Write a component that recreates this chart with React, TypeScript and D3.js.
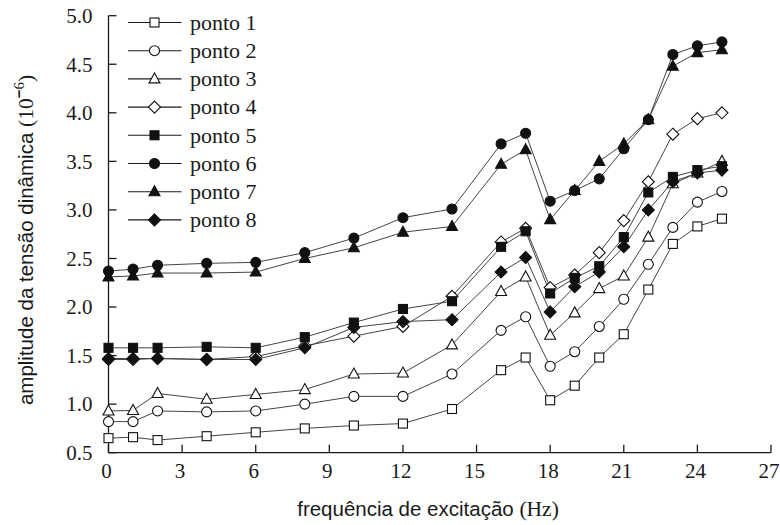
import React from "react";
import * as d3 from "d3";

// excitation frequencies (Hz)
const freq = [0, 1, 2, 4, 6, 8, 10, 12, 14, 16, 17, 18, 19, 20, 21, 22, 23, 24, 25];

// dynamic stress amplitude (×10^-6) at each measuring point
const ponto1 = [0.65, 0.66, 0.63, 0.67, 0.71, 0.75, 0.78, 0.8, 0.95, 1.35, 1.48, 1.04, 1.19, 1.48, 1.72, 2.18, 2.65, 2.83, 2.91];
const ponto2 = [0.82, 0.82, 0.93, 0.92, 0.93, 1.0, 1.08, 1.08, 1.31, 1.76, 1.9, 1.39, 1.54, 1.8, 2.08, 2.44, 2.82, 3.08, 3.19];
const ponto3 = [0.93, 0.935, 1.11, 1.05, 1.1, 1.15, 1.31, 1.32, 1.61, 2.16, 2.31, 1.71, 1.94, 2.19, 2.32, 2.72, 3.27, 3.38, 3.5];
const ponto4 = [1.46, 1.46, 1.47, 1.46, 1.49, 1.6, 1.7, 1.8, 2.11, 2.67, 2.81, 2.2, 2.33, 2.56, 2.89, 3.29, 3.78, 3.94, 4.0];
const ponto5 = [1.58, 1.58, 1.58, 1.59, 1.58, 1.69, 1.84, 1.98, 2.06, 2.62, 2.78, 2.14, 2.3, 2.42, 2.72, 3.18, 3.34, 3.41, 3.45];
const ponto6 = [2.37, 2.39, 2.43, 2.45, 2.46, 2.56, 2.71, 2.92, 3.01, 3.68, 3.79, 3.09, 3.2, 3.32, 3.63, 3.93, 4.6, 4.69, 4.73];
const ponto7 = [2.31, 2.32, 2.35, 2.35, 2.36, 2.5, 2.61, 2.77, 2.83, 3.47, 3.62, 2.9, 3.2, 3.5, 3.68, 3.93, 4.48, 4.62, 4.65];
const ponto8 = [1.47, 1.47, 1.47, 1.46, 1.46, 1.58, 1.79, 1.85, 1.87, 2.36, 2.51, 1.95, 2.21, 2.36, 2.62, 3.0, 3.29, 3.38, 3.41];

const seriesNames = ["ponto 1", "ponto 2", "ponto 3", "ponto 4", "ponto 5", "ponto 6", "ponto 7", "ponto 8"];
const seriesValues = [ponto1, ponto2, ponto3, ponto4, ponto5, ponto6, ponto7, ponto8];
type Shape = "square" | "circle" | "triangle" | "diamond";
const seriesShapes: Shape[] = ["square", "circle", "triangle", "diamond", "square", "circle", "triangle", "diamond"];
const seriesFilled = [false, false, false, false, true, true, true, true];

const xTicks = [0, 3, 6, 9, 12, 15, 18, 21, 24, 27];
const yTicks = [0.5, 1.0, 1.5, 2.0, 2.5, 3.0, 3.5, 4.0, 4.5, 5.0];

const W = 780;
const H = 525;
const x = d3.scaleLinear().domain([0, 27]).range([108.5, 771]);
const y = d3.scaleLinear().domain([0.5, 5]).range([452.7, 15.7]);

const serif = "'Liberation Serif', 'Times New Roman', serif";
const sans = "'Liberation Sans', Arial, sans-serif";
const ink = "#1a1a1a";
const lineInk = "#444";

function Marker({ shape, filled, cx, cy }: { shape: Shape; filled: boolean; cx: number; cy: number }) {
  const fill = filled ? "#111" : "#fff";
  const stroke = "#111";
  const sw = 1.1;
  if (shape === "square") {
    const s = 9;
    return <rect x={cx - s / 2} y={cy - s / 2} width={s} height={s} fill={fill} stroke={stroke} strokeWidth={sw} />;
  }
  if (shape === "circle") {
    return <circle cx={cx} cy={cy} r={5} fill={fill} stroke={stroke} strokeWidth={sw} />;
  }
  if (shape === "triangle") {
    const h = 10;
    const w = 11;
    const pts = `${cx},${cy - h * 0.6} ${cx + w / 2},${cy + h * 0.4} ${cx - w / 2},${cy + h * 0.4}`;
    return <polygon points={pts} fill={fill} stroke={stroke} strokeWidth={sw} strokeLinejoin="miter" />;
  }
  const r = 6;
  const pts = `${cx},${cy - r} ${cx + r},${cy} ${cx},${cy + r} ${cx - r},${cy}`;
  return <polygon points={pts} fill={fill} stroke={stroke} strokeWidth={sw} />;
}

export default function App() {
  const line = d3
    .line<number>()
    .x((_, i) => x(freq[i]))
    .y((v) => y(v));

  const x0 = x(0);
  const yBase = y(0.5);
  const legendRowY = (i: number) => 22.5 + i * 28.2;

  return (
    <svg
      width={W}
      height={H}
      viewBox={`0 0 ${W} ${H}`}
      style={{ position: "absolute", left: 0, top: 0, background: "#fff" }}
    >
      {/* axes */}
      <line x1={x0} y1={y(5)} x2={x0} y2={yBase} stroke={ink} strokeWidth={1.3} />
      <line x1={x0} y1={yBase} x2={x(27)} y2={yBase} stroke={ink} strokeWidth={1.3} />
      {yTicks.map((t) => (
        <g key={`yt${t}`}>
          <line x1={x0} x2={x0 + 8} y1={y(t)} y2={y(t)} stroke={ink} strokeWidth={1.3} />
          <text
            x={x0 - 16}
            y={y(t)}
            dy="0.35em"
            textAnchor="end"
            fontFamily={serif}
            fontSize={21}
            fill={ink}
          >
            {t.toFixed(1)}
          </text>
        </g>
      ))}
      {xTicks.map((t) => (
        <g key={`xt${t}`}>
          <line x1={x(t)} x2={x(t)} y1={yBase} y2={yBase - 8} stroke={ink} strokeWidth={1.3} />
          <text
            x={x(t) - 2}
            y={yBase + 25}
            textAnchor="middle"
            fontFamily={serif}
            fontSize={21}
            fill={ink}
          >
            {t}
          </text>
        </g>
      ))}

      {/* axis titles */}
      <text x={428} y={516} textAnchor="middle" fontSize={20.5} fill={ink}>
        <tspan fontFamily={sans}>frequência de excitação </tspan>
        <tspan fontFamily={serif} fontSize={21.5}>(Hz)</tspan>
      </text>
      <text
        transform={`translate(33, 240) rotate(-90)`}
        textAnchor="middle"
        fontSize={20.5}
        fill={ink}
      >
        <tspan fontFamily={sans}>amplitude da tensão dinâmica </tspan>
        <tspan fontFamily={serif} fontSize={21.5}> (10</tspan>
        <tspan fontFamily={sans} fontWeight="bold" fontSize={15} dy={-9}>−</tspan>
        <tspan fontFamily={serif} fontSize={15}>6</tspan>
        <tspan fontFamily={serif} fontSize={21.5} dy={9}>)</tspan>
      </text>

      {/* series lines */}
      {seriesValues.map((vals, si) => (
        <path key={`l${si}`} d={line(vals) ?? ""} fill="none" stroke={lineInk} strokeWidth={1} />
      ))}
      {/* series markers */}
      {seriesValues.map((vals, si) => (
        <g key={`m${si}`}>
          {vals.map((v, i) => (
            <Marker key={i} shape={seriesShapes[si]} filled={seriesFilled[si]} cx={x(freq[i])} cy={y(v)} />
          ))}
        </g>
      ))}

      {/* legend */}
      {seriesNames.map((name, i) => (
        <g key={`lg${i}`}>
          <line x1={128} x2={181.5} y1={legendRowY(i)} y2={legendRowY(i)} stroke={ink} strokeWidth={1.1} />
          <Marker shape={seriesShapes[i]} filled={seriesFilled[i]} cx={154.5} cy={legendRowY(i)} />
          <text x={190} y={legendRowY(i)} dy="0.33em" fontFamily={serif} fontSize={22} fill={ink}>
            {name}
          </text>
        </g>
      ))}
    </svg>
  );
}
